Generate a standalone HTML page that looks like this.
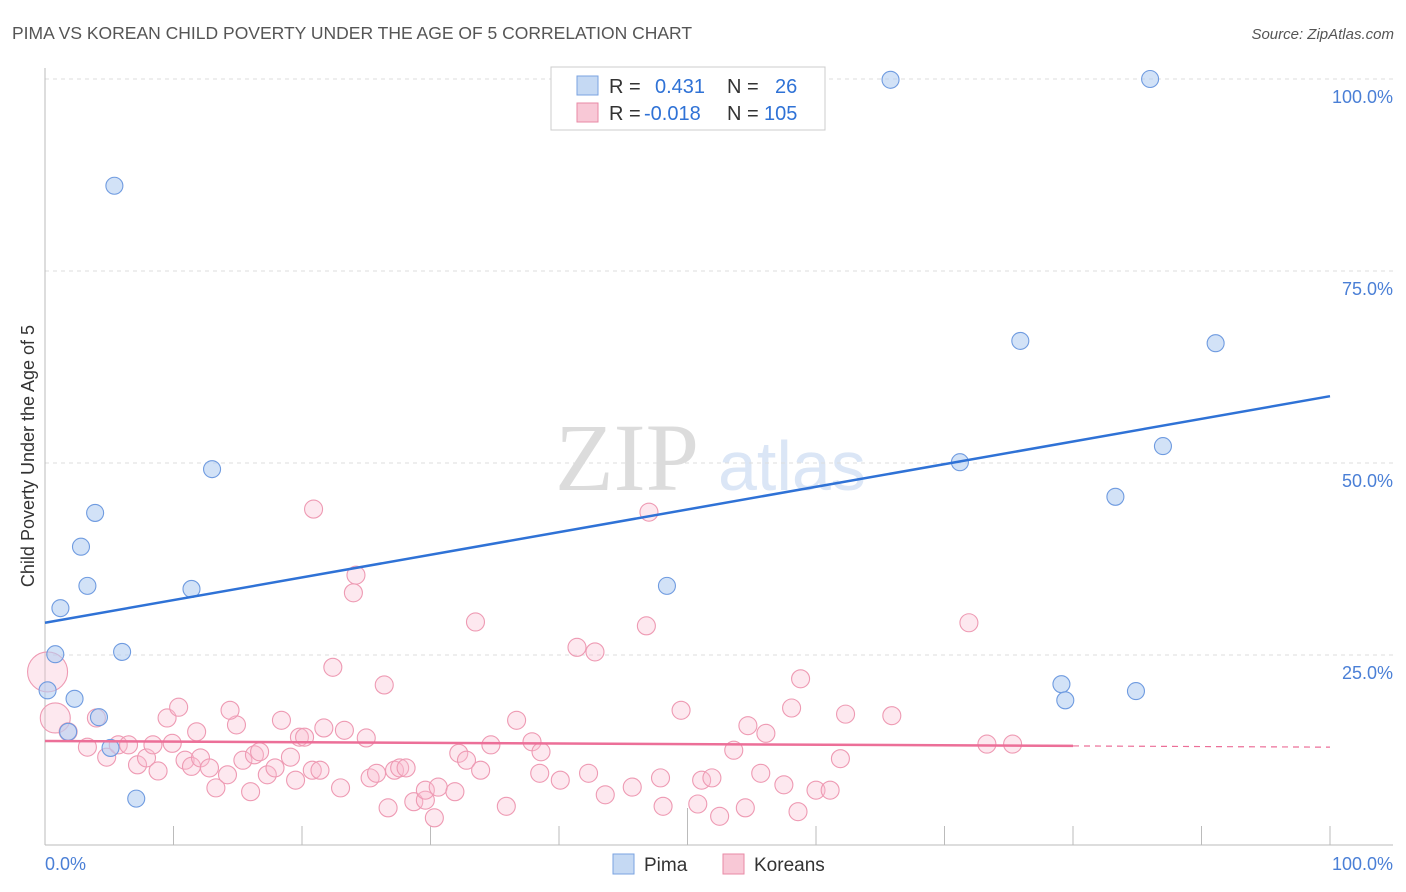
<!DOCTYPE html>
<html><head><meta charset="utf-8">
<style>
body{margin:0;background:#fff;font-family:"Liberation Sans",sans-serif;}
#wrap{position:relative;width:1406px;height:892px;overflow:hidden;}
</style></head>
<body>
<div id="wrap">
<svg id="svg" width="1406" height="892">
  <text x="12" y="39" font-size="17.5" fill="#555">PIMA VS KOREAN CHILD POVERTY UNDER THE AGE OF 5 CORRELATION CHART</text>
  <text x="1394" y="39" font-size="15" fill="#555" font-style="italic" text-anchor="end">Source: ZipAtlas.com</text>
  <text x="555" y="490" font-size="96" fill="#dcdcdc" font-family="Liberation Serif,serif">ZIP</text>
  <text x="718" y="490" font-size="70" fill="#dbe6f6">atlas</text>
  <g id="grid"></g>
  <g id="axes"></g>
  <g id="marks"></g>
  <text transform="translate(34,456) rotate(-90)" font-size="18" fill="#333" text-anchor="middle">Child Poverty Under the Age of 5</text>
  <text x="45" y="870" font-size="18" fill="#4a7fd6">0.0%</text>
  <text x="1393" y="870" font-size="18" fill="#4a7fd6" text-anchor="end">100.0%</text>
  <g>
    <rect x="551" y="67" width="274" height="63" fill="#fff" stroke="#ccc"/>
    <rect x="577" y="76" width="21" height="19" fill="#c5d9f3" stroke="#7aa3e0"/>
    <rect x="577" y="103" width="21" height="19" fill="#f8c8d6" stroke="#e88aa6"/>
    <text x="609" y="93" font-size="20" fill="#333">R = </text>
    <text x="655" y="93" font-size="20" fill="#2f72d6">0.431</text>
    <text x="727" y="93" font-size="20" fill="#333">N = </text>
    <text x="775" y="93" font-size="20" fill="#2f72d6">26</text>
    <text x="609" y="120" font-size="20" fill="#333">R = </text>
    <text x="644" y="120" font-size="20" fill="#2f72d6">-0.018</text>
    <text x="727" y="120" font-size="20" fill="#333">N = </text>
    <text x="764" y="120" font-size="20" fill="#2f72d6">105</text>
  </g>
  <g>
    <rect x="613" y="854" width="21" height="20" fill="#c5d9f3" stroke="#7aa3e0"/>
    <text x="644" y="871" font-size="19" fill="#333">Pima</text>
  </g>
  <g>
    <rect x="723" y="854" width="21" height="20" fill="#f8c8d6" stroke="#e88aa6"/>
    <text x="754" y="871" font-size="19" fill="#333">Koreans</text>
  </g>
</svg>
</div>
<script>
const yTicks=[25,50,75,100];
const yTickLabels=["25.0%","50.0%","75.0%","100.0%"];
const pimaX=[5.4,65.8,86.0,75.9,91.1,87.0,71.2,83.3,13.0,3.9,2.8,3.3,1.2,11.4,48.4,6.0,0.8,0.2,2.3,4.2,1.8,5.1,7.1,79.1,79.4,84.9];
const pimaY=[86.1,99.9,100,65.9,65.6,52.2,50.1,45.6,49.2,43.5,39.1,34.0,31.1,33.6,34.0,25.4,25.1,20.4,19.3,16.9,15.0,12.9,6.3,21.2,19.1,20.3];
const korX=[0.2,0.8,1.8,3.3,4.0,4.8,5.7,6.5,7.2,7.9,8.4,8.8,9.5,9.9,10.4,10.9,11.4,11.8,12.1,12.8,13.3,14.2,14.9,15.4,16.0,16.3,16.7,17.3,17.9,18.4,19.1,19.5,19.8,20.2,20.8,21.4,21.7,22.4,23.0,23.3,24.0,24.2,25.0,25.3,25.8,26.4,26.7,27.2,27.6,28.1,28.7,29.6,29.6,30.3,30.6,31.9,32.2,32.8,33.5,33.9,34.7,35.9,36.7,37.9,38.5,38.6,40.1,41.4,42.3,42.8,43.6,45.7,46.8,47.0,47.9,48.1,49.5,50.8,51.1,51.9,52.5,53.6,54.5,54.7,55.7,56.1,57.5,58.1,58.6,58.8,60.0,61.1,61.9,62.3,65.9,71.9,73.3,75.3,20.9,14.4];
const korY=[22.8,16.8,15.0,13.0,16.8,11.7,13.3,13.3,10.7,11.6,13.3,9.9,16.8,13.5,18.2,11.3,10.5,15.0,11.6,10.3,7.7,9.4,15.9,11.3,7.2,12.0,12.4,9.4,10.3,16.5,11.7,8.7,14.3,14.3,10.0,10.0,15.5,23.4,7.7,15.2,33.1,35.4,14.2,9.0,9.6,21.1,5.1,10.0,10.3,10.3,5.9,6.1,7.4,3.8,7.8,7.2,12.2,11.3,29.3,10.0,13.3,5.3,16.5,13.7,9.6,12.4,8.7,26.0,9.6,25.4,6.8,7.8,28.8,43.6,9.0,5.3,17.8,5.6,8.7,9.0,4.0,12.6,5.1,15.8,9.6,14.8,8.1,18.1,4.6,21.9,7.4,7.4,11.5,17.3,17.1,29.2,13.4,13.4,44.0,17.8];
const korR=[20,15];
const pimaTrend=[29.2,58.7];
const korTrend=[13.8,13.0];
const korTrendEnd=80;

const NS="http://www.w3.org/2000/svg";
const X0=45,X1=1330,Y0=847,Y100=79;
const sx=v=>X0+(X1-X0)*v/100;
const sy=v=>Y0-(Y0-Y100)*v/100;
function mk(tag,attrs,parent){const e=document.createElementNS(NS,tag);for(const k in attrs)e.setAttribute(k,attrs[k]);parent.appendChild(e);return e;}
const grid=document.getElementById('grid'),axes=document.getElementById('axes'),marks=document.getElementById('marks');
yTicks.forEach((t,i)=>{
  const l=mk('line',{x1:X0,x2:1393,y1:sy(t),y2:sy(t),stroke:'#ddd','stroke-dasharray':'4,4'},grid);
  
  
  const tx=mk('text',{x:1393,y:sy(t)+24,'font-size':18,fill:'#4a7fd6','text-anchor':'end'},grid);
  tx.textContent=yTickLabels[i];
  
  
});
const ya=mk('line',{x1:X0,x2:X0,y1:68,y2:845,stroke:'#bbb'},axes);


const xa=mk('line',{x1:X0,x2:1393,y1:845,y2:845,stroke:'#bbb'},axes);


for(let i=1;i<=10;i++){
  const t=mk('line',{x1:sx(i*10),x2:sx(i*10),y1:i==5?808:826,y2:845,stroke:'#bbb'},axes);
  
  
}
korX.forEach((x,i)=>{
  const c=mk('circle',{cx:sx(x),cy:sy(korY[i]),r:korR[i]||9,fill:'rgba(248,190,208,0.35)',stroke:'#ee9ab3','stroke-width':1.1},marks);
  
  
});
pimaX.forEach((x,i)=>{
  const c=mk('circle',{cx:sx(x),cy:sy(pimaY[i]),r:8.5,fill:'rgba(180,206,242,0.6)',stroke:'#6f9be0','stroke-width':1.1},marks);
  
  
});
const pl=mk('line',{x1:sx(0),y1:sy(pimaTrend[0]),x2:sx(100),y2:sy(pimaTrend[1]),stroke:'#2f72d6','stroke-width':2.5},marks);


const kyAt=v=>korTrend[0]+(korTrend[1]-korTrend[0])*v/100;
const kl=mk('line',{x1:sx(0),y1:sy(kyAt(0)),x2:sx(korTrendEnd),y2:sy(kyAt(korTrendEnd)),stroke:'#ec6f98','stroke-width':2.5},marks);


const kd=mk('line',{x1:sx(korTrendEnd),y1:sy(kyAt(korTrendEnd)),x2:sx(100),y2:sy(kyAt(100)),stroke:'#ec6f98','stroke-width':1.2,'stroke-dasharray':'6,5'},marks);


</script>
</body></html>
